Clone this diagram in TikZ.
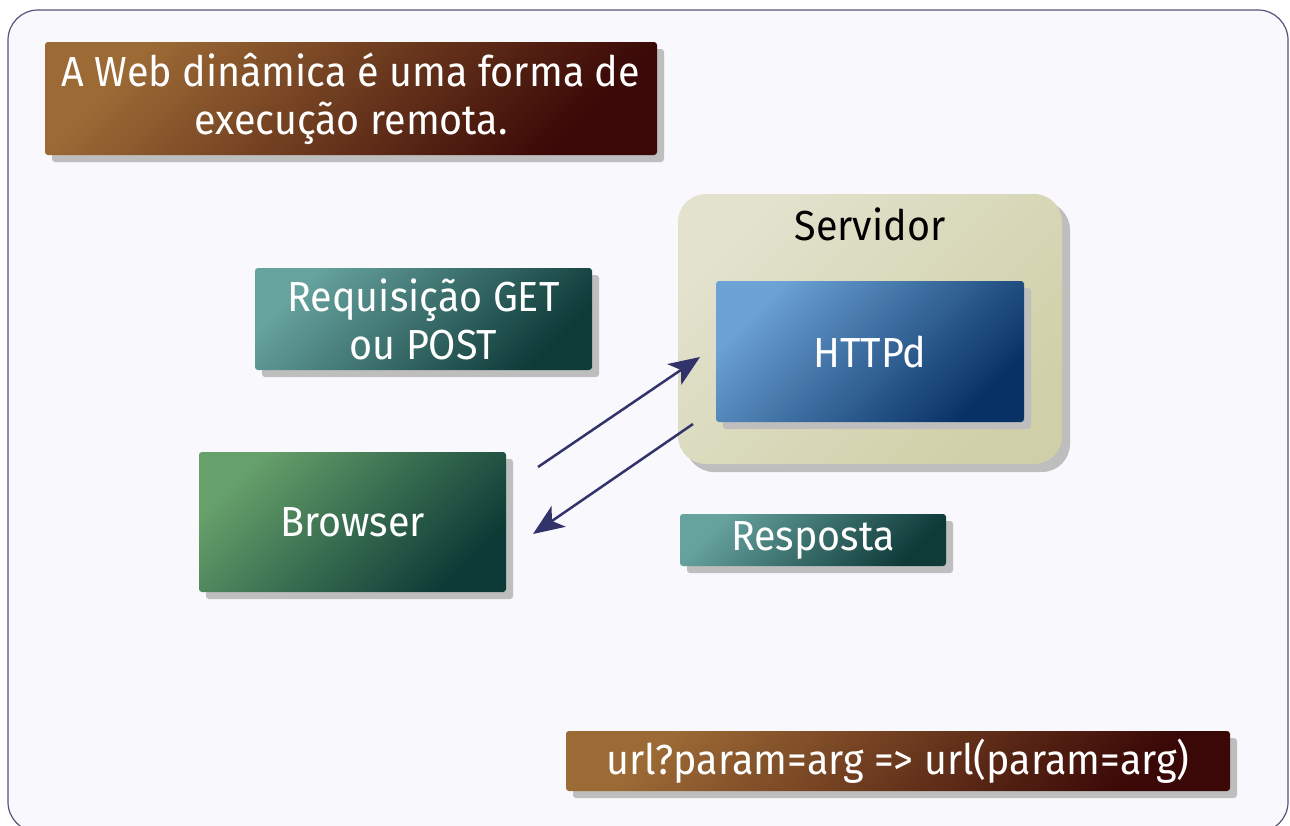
\documentclass[tikz,border=0pt]{standalone}
\usepackage{fontspec}
\setmainfont{Fira Sans}[FakeStretch=0.94]
\usetikzlibrary{shadows,arrows.meta}

\definecolor{fundo}{HTML}{F8F8FD}
\definecolor{moldura}{HTML}{55557A}
\definecolor{sombra}{HTML}{BEBEBE}
\definecolor{marromA}{HTML}{9C6A35}
\definecolor{marromB}{HTML}{3A0806}
\definecolor{tealA}{HTML}{66A29E}
\definecolor{tealB}{HTML}{0E3A38}
\definecolor{verdeA}{HTML}{66A06A}
\definecolor{verdeB}{HTML}{0C3A36}
\definecolor{azulA}{HTML}{6CA2D4}
\definecolor{azulB}{HTML}{083266}
\definecolor{servA}{HTML}{E2E2CE}
\definecolor{servB}{HTML}{D0D0A8}
\definecolor{seta}{HTML}{33336B}

\tikzset{
  caixa/.style={rounded corners=3pt, inner sep=0pt, text=white, align=center,
    font=\fontsize{42}{48}\selectfont,
    drop shadow={shadow xshift=7pt, shadow yshift=-7pt, fill=sombra, opacity=1}},
  tom/.style 2 args={top color=#1, bottom color=#2, shading angle=45},
  flecha/.style={draw=seta, line width=2.5pt,
    -{Stealth[length=31pt, width=25pt, inset=8pt]}}
}

\begin{document}
\begin{tikzpicture}[x=1pt,y=-1pt]
        \useasboundingbox (0,0) rectangle (1290,825);
        \draw[draw=moldura, fill=fundo, line width=1.2pt, rounded corners=30pt] (8,10) rectangle (1288,832);

        % servidor com o HTTPd dentro
        \node[caixa, rounded corners=28pt, tom={servA}{servB}, minimum width=384pt, minimum height=270pt,
          drop shadow={shadow xshift=8pt, shadow yshift=-8pt, fill=sombra, opacity=1}] (servidor) at (870,329) {};
        \node[font=\fontsize{42}{48}\selectfont] (rotulo) at (870,224) {Servidor};
        \node[caixa, tom={azulA}{azulB}, minimum width=308pt, minimum height=141pt] (httpd) at (870,351.5) {HTTPd};

        \node[caixa, tom={marromA}{marromB}, minimum width=612pt, minimum height=113pt] (titulo) at (351,98.5)
          {A Web dinâmica é uma forma de\\execução remota.};
        \node[caixa, tom={tealA}{tealB}, minimum width=337pt, minimum height=102pt] (requisicao) at (423.5,319)
          {Requisição GET\\ou POST};
        \node[caixa, tom={verdeA}{verdeB}, minimum width=307pt, minimum height=140pt] (browser) at (352.5,522) {Browser};
        \node[caixa, tom={tealA}{tealB}, minimum width=266pt, minimum height=52pt] (resposta) at (813,540) {Resposta};
        \node[caixa, tom={marromA}{marromB}, minimum width=664pt, minimum height=60pt] (url) at (898,761)
          {url?param=arg => url(param=arg)};

        \coordinate (ida0) at (538,467);
        \coordinate (ida1) at (700,357);
        \coordinate (volta0) at (693,424);
        \coordinate (volta1) at (533,534);

        \draw[flecha] (ida0) -- (ida1);
        \draw[flecha] (volta0) -- (volta1);
    \end{tikzpicture}
\end{document}
